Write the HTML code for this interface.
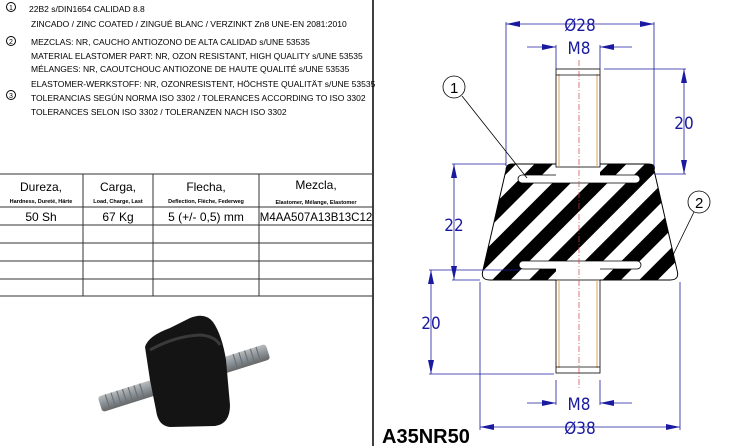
<!DOCTYPE html>
<html><head><meta charset="utf-8"><style>
body{margin:0;background:#fff;width:742px;height:446px;overflow:hidden;font-family:"Liberation Sans",sans-serif}
</style></head><body>
<svg width="742" height="446" viewBox="0 0 742 446" xmlns="http://www.w3.org/2000/svg" style="position:absolute;left:0;top:0">
<defs>
<pattern id="h" patternUnits="userSpaceOnUse" width="26" height="26" patternTransform="rotate(45)">
<rect width="26" height="26" fill="#fff"/><rect width="13" height="26" fill="#000"/></pattern>
<clipPath id="body"><path d="M512,164 L648,164 Q656,164 654,170 L677,270 Q680,280 670,280 L490,280 Q480,280 483,270 L506,170 Q506,164 512,164Z"/></clipPath>
<linearGradient id="bolt" x1="0" y1="0" x2="0" y2="1"><stop offset="0" stop-color="#bbb"/><stop offset="0.5" stop-color="#8a9298"/><stop offset="1" stop-color="#666"/></linearGradient>
</defs>
<line x1="373" y1="0" x2="373" y2="446" stroke="#000" stroke-width="1.5"/>
<g font-size="8.5" fill="#000" font-family="Liberation Sans,sans-serif">
<g fill="none" stroke="#000"><circle cx="11" cy="7" r="4.5"/><circle cx="11" cy="41" r="4.5"/><circle cx="11" cy="95" r="4.5"/></g>
<text x="9" y="10" font-size="7">1</text><text x="9" y="44" font-size="7">2</text><text x="9" y="98" font-size="7">3</text>
<text x="29" y="12">22B2 s/DIN1654 CALIDAD 8.8</text>
<text x="31" y="27">ZINCADO / ZINC COATED / ZINGUÉ BLANC / VERZINKT  Zn8 UNE-EN 2081:2010</text>
<text x="31" y="45">MEZCLAS: NR, CAUCHO ANTIOZONO DE ALTA CALIDAD s/UNE 53535</text>
<text x="31" y="59">MATERIAL ELASTOMER PART: NR, OZON RESISTANT, HIGH QUALITY s/UNE 53535</text>
<text x="31" y="72">MÉLANGES: NR, CAOUTCHOUC ANTIOZONE DE HAUTE QUALITÉ s/UNE 53535</text>
<text x="31" y="87">ELASTOMER-WERKSTOFF: NR, OZONRESISTENT, HÖCHSTE QUALITÄT s/UNE 53535</text>
<text x="31" y="101">TOLERANCIAS SEGÚN NORMA ISO 3302 / TOLERANCES ACCORDING TO ISO 3302</text>
<text x="31" y="115">TOLERANCES SELON ISO 3302 / TOLERANZEN NACH ISO 3302</text>
</g>
<g stroke="#333" stroke-width="1">
<line x1="0" y1="174" x2="373" y2="174"/><line x1="0" y1="207" x2="373" y2="207"/><line x1="0" y1="225" x2="373" y2="225"/>
<line x1="0" y1="243" x2="373" y2="243"/><line x1="0" y1="261" x2="373" y2="261"/><line x1="0" y1="279" x2="373" y2="279"/><line x1="0" y1="296" x2="373" y2="296"/>
<line x1="83" y1="174" x2="83" y2="296"/><line x1="153" y1="174" x2="153" y2="296"/><line x1="259" y1="174" x2="259" y2="296"/>
</g>
<g text-anchor="middle" fill="#000">
<text x="41" y="191" font-size="12">Dureza,</text><text x="41" y="203" font-size="5.5" font-weight="bold">Hardness, Dureté, Härte</text>
<text x="118" y="191" font-size="12">Carga,</text><text x="118" y="203" font-size="5.5" font-weight="bold">Load, Charge, Last</text>
<text x="206" y="191" font-size="12">Flecha,</text><text x="206" y="203" font-size="5.5" font-weight="bold">Deflection, Flèche, Federweg</text>
<text x="316" y="189" font-size="12">Mezcla,</text><text x="316" y="204" font-size="5.5" font-weight="bold">Elastomer, Mélange, Elastomer</text>
<text x="41" y="221" font-size="12">50 Sh</text><text x="118" y="221" font-size="12">67 Kg</text>
<text x="206" y="221" font-size="12">5 (+/- 0,5) mm</text><text x="316" y="221" font-size="11.5">M4AA507A13B13C12</text>
</g>
<!-- photo -->
<g transform="rotate(-17.5 184 378)">
<rect x="96" y="370" width="176" height="16" rx="3" fill="url(#bolt)"/>
<g stroke="#6a7278" stroke-width="1.2">
<line x1="104" y1="370" x2="104" y2="386"/><line x1="110" y1="370" x2="110" y2="386"/><line x1="116" y1="370" x2="116" y2="386"/><line x1="122" y1="370" x2="122" y2="386"/><line x1="128" y1="370" x2="128" y2="386"/><line x1="134" y1="370" x2="134" y2="386"/><line x1="140" y1="370" x2="140" y2="386"/>
<line x1="238" y1="370" x2="238" y2="386"/><line x1="244" y1="370" x2="244" y2="386"/><line x1="250" y1="370" x2="250" y2="386"/><line x1="256" y1="370" x2="256" y2="386"/><line x1="262" y1="370" x2="262" y2="386"/></g>
</g>
<path d="M145,347 Q148,336 170,328 L190,318 Q205,312 213,322 Q222,335 226,360 L230,405 Q230,424 215,426 L170,427 Q158,426 156,410 L150,380 Z" fill="#141414"/>
<path d="M150,350 Q175,336 200,335 Q215,336 220,345" stroke="#3a3a3a" stroke-width="3" fill="none"/>
<!-- drawing -->
<g clip-path="url(#body)"><rect x="470" y="160" width="220" height="125" fill="url(#h)"/></g>
<path d="M512,164 L648,164 Q656,164 654,170 L677,270 Q680,280 670,280 L490,280 Q480,280 483,270 L506,170 Q506,164 512,164Z" fill="none" stroke="#000" stroke-width="1"/>
<g fill="#fff" stroke="#000" stroke-width="0.8">
<rect x="518" y="175" width="122" height="8" rx="4"/>
<rect x="519" y="261" width="122" height="8" rx="4"/>
<rect x="556" y="164" width="44" height="14" stroke="none"/>
<rect x="556" y="266" width="44" height="16" stroke="none"/>
<rect x="556" y="69" width="44" height="98"/>
<rect x="556" y="280" width="44" height="93"/>
</g>
<g stroke="#d9a060" stroke-width="1"><line x1="559" y1="74" x2="559" y2="167"/><line x1="597" y1="74" x2="597" y2="167"/><line x1="559" y1="280" x2="559" y2="368"/><line x1="597" y1="280" x2="597" y2="368"/></g>
<g stroke="#000" stroke-width="0.8"><line x1="556" y1="75" x2="600" y2="75"/><line x1="556" y1="367" x2="600" y2="367"/></g>
<line x1="579" y1="60" x2="579" y2="390" stroke="#d04040" stroke-width="0.7" stroke-dasharray="6,2,1,2"/>
<g stroke="#1a1aa0" stroke-width="0.8" fill="none">
<line x1="506" y1="22" x2="506" y2="166"/><line x1="654" y1="22" x2="654" y2="168"/>
<line x1="506" y1="24" x2="654" y2="24"/>
<line x1="527" y1="47" x2="556" y2="47"/><line x1="600" y1="47" x2="632" y2="47"/>
<line x1="556" y1="45" x2="556" y2="69"/><line x1="600" y1="45" x2="600" y2="69"/>
<line x1="604" y1="69" x2="686" y2="69"/><line x1="654" y1="174" x2="686" y2="174"/><line x1="684" y1="69" x2="684" y2="174"/>
<line x1="452" y1="164" x2="506" y2="164"/><line x1="452" y1="280" x2="480" y2="280"/><line x1="454" y1="164" x2="454" y2="280"/>
<line x1="429" y1="270" x2="520" y2="270"/><line x1="429" y1="374" x2="554" y2="374"/><line x1="431" y1="270" x2="431" y2="374"/>
<line x1="556" y1="380" x2="556" y2="405"/><line x1="600" y1="380" x2="600" y2="405"/>
<line x1="527" y1="403" x2="556" y2="403"/><line x1="600" y1="403" x2="632" y2="403"/>
<line x1="480" y1="282" x2="480" y2="430"/><line x1="680" y1="282" x2="680" y2="430"/>
<line x1="480" y1="427" x2="680" y2="427"/>
</g>
<g fill="#1a1aa0">
<path d="M506,24 l14,-3 v6z"/><path d="M654,24 l-14,-3 v6z"/>
<path d="M556,47 l-14,-3 v6z"/><path d="M600,47 l14,-3 v6z"/>
<path d="M684,69 l-3,14 h6z"/><path d="M684,174 l-3,-14 h6z"/>
<path d="M454,164 l-3,14 h6z"/><path d="M454,280 l-3,-14 h6z"/>
<path d="M431,270 l-3,14 h6z"/><path d="M431,374 l-3,-14 h6z"/>
<path d="M556,403 l-14,-3 v6z"/><path d="M600,403 l14,-3 v6z"/>
<path d="M480,427 l14,-3 v6z"/><path d="M680,427 l-14,-3 v6z"/>
</g>
<g fill="#1a1aa0" font-size="17" text-anchor="middle" font-family="DejaVu Sans Condensed,Liberation Sans Narrow,sans-serif">
<text x="580" y="31">Ø28</text>
<text x="579" y="54">M8</text>
<text x="684" y="129">20</text>
<text x="454" y="231">22</text>
<text x="431" y="329">20</text>
<text x="579" y="410">M8</text>
<text x="580" y="434">Ø38</text>
</g>
<g fill="#fff" stroke="#000" stroke-width="0.8"><circle cx="454" cy="87" r="11"/><circle cx="699" cy="202" r="11"/>
<line x1="462" y1="96" x2="527" y2="178"/><line x1="694" y1="212" x2="673" y2="255"/></g>
<text x="450" y="93" font-size="15">1</text><text x="695" y="208" font-size="15">2</text>
<text x="382" y="443" font-size="20" font-weight="bold">A35NR50</text>
</svg>
</body></html>
